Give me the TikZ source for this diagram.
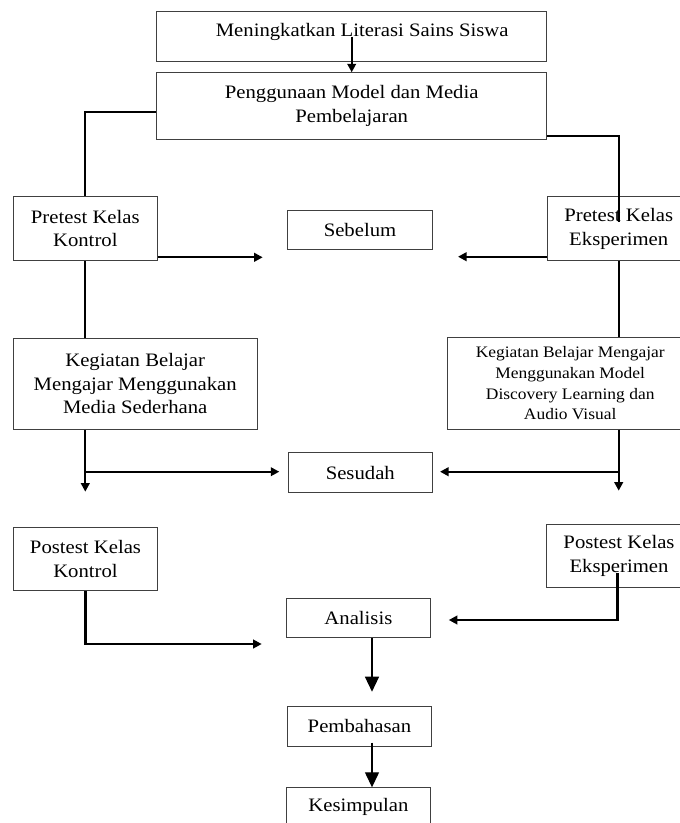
\documentclass[tikz,border=0pt]{standalone}
\usepackage{fontspec}
\setmainfont{Liberation Serif}[FakeStretch=1.09]
\usetikzlibrary{arrows.meta}
\begin{document}
\begin{tikzpicture}[x=1pt,y=-1pt,
    box/.style={draw=black!75,line width=0.9pt,inner sep=0pt,align=center,
      font=\fontsize{19}{23.5}\selectfont},
    line/.style={line width=2.2pt},
    conn/.style={line width=2.2pt,-{Triangle[length=8.5pt,width=8.5pt]}},
    bigarr/.style={line width=1.3pt,-{Triangle[length=15pt,width=14pt]}}]
    \useasboundingbox (0,0) rectangle (680,823);
    % boxes
    \node[box,minimum width=390pt,minimum height=50pt,text depth=13pt] (lit) at (351.7,36.7) {\hspace*{21pt}Meningkatkan Literasi Sains Siswa};
    \node[box,minimum width=390pt,minimum height=66.3pt] (pen) at (351.7,105.9) {Penggunaan Model dan Media\\Pembelajaran};
    \node[box,minimum width=144pt,minimum height=64.7pt] (prek) at (85.3,228.4) {Pretest Kelas\\Kontrol};
    \node[box,minimum width=144.6pt,minimum height=39.3pt] (seb) at (360,229.7) {Sebelum};
    \node[box,minimum width=142.7pt,minimum height=64pt] (pree) at (618.7,228.7) {Pretest Kelas\\Eksperimen};
    \node[box,minimum width=243.7pt,minimum height=91pt] (kbml) at (135.2,383.8) {Kegiatan Belajar\\Mengajar Menggunakan\\Media Sederhana};
    \node[box,minimum width=245.7pt,minimum height=91.3pt,font=\fontsize{16}{20.6}\selectfont] (kbmr) at (570.2,383.4) {Kegiatan Belajar Mengajar\\Menggunakan Model\\Discovery Learning dan\\Audio Visual};
    \node[box,minimum width=144pt,minimum height=39.6pt] (ses) at (360.3,472.5) {Sesudah};
    \node[box,minimum width=144.4pt,minimum height=63.4pt] (posk) at (85.5,559) {Postest Kelas\\Kontrol};
    \node[box,minimum width=145.2pt,minimum height=63.4pt] (pose) at (619,556) {Postest Kelas\\Eksperimen};
    \node[box,minimum width=144.4pt,minimum height=39.4pt] (ana) at (358.4,618) {Analisis};
    \node[box,minimum width=144pt,minimum height=39.3pt] (pem) at (359.5,726.4) {Pembahasan};
    \node[box,minimum width=144.4pt,minimum height=39.3pt] (kes) at (358.4,807.4) {Kesimpulan};
    % free ends
    \coordinate (preein) at (618.7,221.7);
    \coordinate (sebL) at (262.7,257.3);
    \coordinate (sebR) at (458,256.7);
    \coordinate (kdown) at (85.3,491.7);
    \coordinate (edown) at (618.7,490.7);
    \coordinate (sesL) at (279.3,471.7);
    \coordinate (sesR) at (440,471.7);
    \coordinate (anaL) at (261.7,644);
    \coordinate (posein) at (617.5,573);
    \coordinate (anaR) at (448.8,620);
    \coordinate (midx) at (372,0);
    \coordinate (pemT) at (372,691.7);
    \coordinate (pemB) at (372,742.7);
    % connectors
    \draw[conn] (lit.center) -- (pen.north);
    \draw[line] ([yshift=-5.8pt]pen.west) -| (prek.north);
    \draw[line] ([yshift=3.3pt]pen.south east) -| (preein);
    \draw[conn] (prek.east |- sebL) -- (sebL);
    \draw[conn] (pree.west |- sebR) -- (sebR);
    \draw[line] (prek.south) -- (kbml.north -| prek.south);
    \draw[line] (pree.south) -- (kbmr.north -| pree.south);
    \draw[conn] (kbml.south -| kdown) -- (kdown);
    \draw[conn] (kdown |- sesL) -- (sesL);
    \draw[conn] (kbmr.south -| edown) -- (edown);
    \draw[conn] (edown |- sesR) -- (sesR);
    \draw[conn] (posk.south) |- (anaL);
    \draw[conn] (posein) |- (anaR);
    \draw[bigarr] (ana.south -| midx) -- (pemT);
    \draw[bigarr] (pemB) -- (kes.north -| midx);
\end{tikzpicture}
\end{document}
